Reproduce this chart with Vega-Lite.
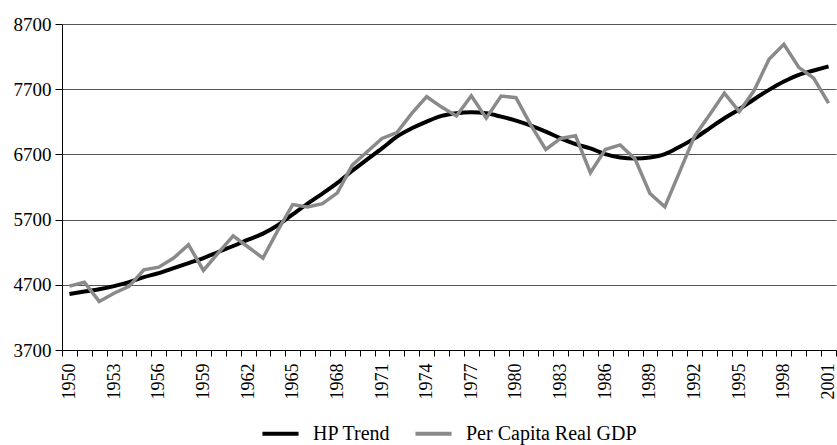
{
  "$schema": "https://vega.github.io/schema/vega-lite/v6.json",
  "width": 774,
  "height": 326,
  "autosize": {"type": "none"},
  "padding": {"left": 62, "top": 24, "right": 1, "bottom": 95},
  "background": "white",
  "config": {
    "font": "Liberation Serif",
    "view": {"stroke": null},
    "axis": {"labelFont": "Liberation Serif", "labelColor": "#000", "labelFontSize": 19, "titleFont": "Liberation Serif"},
    "legend": {"labelFont": "Liberation Serif", "labelColor": "#000"}
  },
  "data": {
    "values": [
      {"year": 1950, "series": "HP Trend", "value": 4560},
      {"year": 1951, "series": "HP Trend", "value": 4597},
      {"year": 1952, "series": "HP Trend", "value": 4633},
      {"year": 1953, "series": "HP Trend", "value": 4679},
      {"year": 1954, "series": "HP Trend", "value": 4741},
      {"year": 1955, "series": "HP Trend", "value": 4818},
      {"year": 1956, "series": "HP Trend", "value": 4879},
      {"year": 1957, "series": "HP Trend", "value": 4956},
      {"year": 1958, "series": "HP Trend", "value": 5033},
      {"year": 1959, "series": "HP Trend", "value": 5110},
      {"year": 1960, "series": "HP Trend", "value": 5203},
      {"year": 1961, "series": "HP Trend", "value": 5295},
      {"year": 1962, "series": "HP Trend", "value": 5392},
      {"year": 1963, "series": "HP Trend", "value": 5485},
      {"year": 1964, "series": "HP Trend", "value": 5613},
      {"year": 1965, "series": "HP Trend", "value": 5780},
      {"year": 1966, "series": "HP Trend", "value": 5946},
      {"year": 1967, "series": "HP Trend", "value": 6100},
      {"year": 1968, "series": "HP Trend", "value": 6264},
      {"year": 1969, "series": "HP Trend", "value": 6449},
      {"year": 1970, "series": "HP Trend", "value": 6623},
      {"year": 1971, "series": "HP Trend", "value": 6792},
      {"year": 1972, "series": "HP Trend", "value": 6972},
      {"year": 1973, "series": "HP Trend", "value": 7100},
      {"year": 1974, "series": "HP Trend", "value": 7203},
      {"year": 1975, "series": "HP Trend", "value": 7290},
      {"year": 1976, "series": "HP Trend", "value": 7331},
      {"year": 1977, "series": "HP Trend", "value": 7346},
      {"year": 1978, "series": "HP Trend", "value": 7331},
      {"year": 1979, "series": "HP Trend", "value": 7279},
      {"year": 1980, "series": "HP Trend", "value": 7218},
      {"year": 1981, "series": "HP Trend", "value": 7141},
      {"year": 1982, "series": "HP Trend", "value": 7049},
      {"year": 1983, "series": "HP Trend", "value": 6946},
      {"year": 1984, "series": "HP Trend", "value": 6859},
      {"year": 1985, "series": "HP Trend", "value": 6792},
      {"year": 1986, "series": "HP Trend", "value": 6705},
      {"year": 1987, "series": "HP Trend", "value": 6654},
      {"year": 1988, "series": "HP Trend", "value": 6638},
      {"year": 1989, "series": "HP Trend", "value": 6654},
      {"year": 1990, "series": "HP Trend", "value": 6705},
      {"year": 1991, "series": "HP Trend", "value": 6818},
      {"year": 1992, "series": "HP Trend", "value": 6946},
      {"year": 1993, "series": "HP Trend", "value": 7100},
      {"year": 1994, "series": "HP Trend", "value": 7254},
      {"year": 1995, "series": "HP Trend", "value": 7392},
      {"year": 1996, "series": "HP Trend", "value": 7546},
      {"year": 1997, "series": "HP Trend", "value": 7690},
      {"year": 1998, "series": "HP Trend", "value": 7818},
      {"year": 1999, "series": "HP Trend", "value": 7921},
      {"year": 2000, "series": "HP Trend", "value": 7987},
      {"year": 2001, "series": "HP Trend", "value": 8049},
      {"year": 1950, "series": "Per Capita Real GDP", "value": 4680},
      {"year": 1951, "series": "Per Capita Real GDP", "value": 4740},
      {"year": 1952, "series": "Per Capita Real GDP", "value": 4445},
      {"year": 1953, "series": "Per Capita Real GDP", "value": 4570},
      {"year": 1954, "series": "Per Capita Real GDP", "value": 4675},
      {"year": 1955, "series": "Per Capita Real GDP", "value": 4930},
      {"year": 1956, "series": "Per Capita Real GDP", "value": 4970},
      {"year": 1957, "series": "Per Capita Real GDP", "value": 5110},
      {"year": 1958, "series": "Per Capita Real GDP", "value": 5315},
      {"year": 1959, "series": "Per Capita Real GDP", "value": 4920},
      {"year": 1960, "series": "Per Capita Real GDP", "value": 5190},
      {"year": 1961, "series": "Per Capita Real GDP", "value": 5450},
      {"year": 1962, "series": "Per Capita Real GDP", "value": 5280},
      {"year": 1963, "series": "Per Capita Real GDP", "value": 5110},
      {"year": 1964, "series": "Per Capita Real GDP", "value": 5535},
      {"year": 1965, "series": "Per Capita Real GDP", "value": 5930},
      {"year": 1966, "series": "Per Capita Real GDP", "value": 5895},
      {"year": 1967, "series": "Per Capita Real GDP", "value": 5945},
      {"year": 1968, "series": "Per Capita Real GDP", "value": 6110},
      {"year": 1969, "series": "Per Capita Real GDP", "value": 6535},
      {"year": 1970, "series": "Per Capita Real GDP", "value": 6740},
      {"year": 1971, "series": "Per Capita Real GDP", "value": 6945},
      {"year": 1972, "series": "Per Capita Real GDP", "value": 7035},
      {"year": 1973, "series": "Per Capita Real GDP", "value": 7330},
      {"year": 1974, "series": "Per Capita Real GDP", "value": 7585},
      {"year": 1975, "series": "Per Capita Real GDP", "value": 7425},
      {"year": 1976, "series": "Per Capita Real GDP", "value": 7290},
      {"year": 1977, "series": "Per Capita Real GDP", "value": 7600},
      {"year": 1978, "series": "Per Capita Real GDP", "value": 7255},
      {"year": 1979, "series": "Per Capita Real GDP", "value": 7595},
      {"year": 1980, "series": "Per Capita Real GDP", "value": 7570},
      {"year": 1981, "series": "Per Capita Real GDP", "value": 7150},
      {"year": 1982, "series": "Per Capita Real GDP", "value": 6775},
      {"year": 1983, "series": "Per Capita Real GDP", "value": 6945},
      {"year": 1984, "series": "Per Capita Real GDP", "value": 6985},
      {"year": 1985, "series": "Per Capita Real GDP", "value": 6420},
      {"year": 1986, "series": "Per Capita Real GDP", "value": 6775},
      {"year": 1987, "series": "Per Capita Real GDP", "value": 6845},
      {"year": 1988, "series": "Per Capita Real GDP", "value": 6630},
      {"year": 1989, "series": "Per Capita Real GDP", "value": 6100},
      {"year": 1990, "series": "Per Capita Real GDP", "value": 5895},
      {"year": 1991, "series": "Per Capita Real GDP", "value": 6435},
      {"year": 1992, "series": "Per Capita Real GDP", "value": 6980},
      {"year": 1993, "series": "Per Capita Real GDP", "value": 7305},
      {"year": 1994, "series": "Per Capita Real GDP", "value": 7640},
      {"year": 1995, "series": "Per Capita Real GDP", "value": 7355},
      {"year": 1996, "series": "Per Capita Real GDP", "value": 7680},
      {"year": 1997, "series": "Per Capita Real GDP", "value": 8160},
      {"year": 1998, "series": "Per Capita Real GDP", "value": 8390},
      {"year": 1999, "series": "Per Capita Real GDP", "value": 8035},
      {"year": 2000, "series": "Per Capita Real GDP", "value": 7870},
      {"year": 2001, "series": "Per Capita Real GDP", "value": 7485}
    ]
  },
  "encoding": {
    "x": {
      "field": "year",
      "type": "ordinal",
      "scale": {"type": "band", "paddingInner": 0, "paddingOuter": 0},
      "axis": {
        "title": null,
        "labelAngle": -90,
        "labelExpr": "(datum.value - 1950) % 3 == 0 ? datum.label : ''",
        "tickBand": "extent",
        "tickSize": 6,
        "tickColor": "#000",
        "tickWidth": 1,
        "domainColor": "#000",
        "domainWidth": 1,
        "grid": false,
        "labelPadding": 7,
        "labelFontSize": 18
      }
    },
    "y": {
      "field": "value",
      "type": "quantitative",
      "scale": {"domain": [3700, 8700], "nice": false, "zero": false},
      "axis": {
        "title": null,
        "values": [3700, 4700, 5700, 6700, 7700, 8700],
        "format": "d",
        "grid": true,
        "gridColor": "#555",
        "gridWidth": 1,
        "tickSize": 7,
        "tickColor": "#000",
        "domainColor": "#000",
        "labelPadding": 4,
        "labelFontSize": 19
      }
    },
    "color": {
      "field": "series",
      "type": "nominal",
      "scale": {"domain": ["HP Trend", "Per Capita Real GDP"], "range": ["#000000", "#8a8a8a"]},
      "legend": {
        "title": null,
        "orient": "none",
        "legendX": 198,
        "legendY": 389,
        "direction": "horizontal",
        "symbolType": "stroke",
        "symbolStrokeWidth": 4,
        "symbolSize": 1300,
        "labelFontSize": 20,
        "labelLimit": 400,
        "labelOffset": 12,
        "columnPadding": 16
      }
    }
  },
  "layer": [
    {
      "transform": [{"filter": "datum.series == 'HP Trend'"}],
      "mark": {"type": "line", "strokeWidth": 4, "interpolate": "monotone"}
    },
    {
      "transform": [{"filter": "datum.series == 'Per Capita Real GDP'"}],
      "mark": {"type": "line", "strokeWidth": 3.5}
    }
  ]
}
